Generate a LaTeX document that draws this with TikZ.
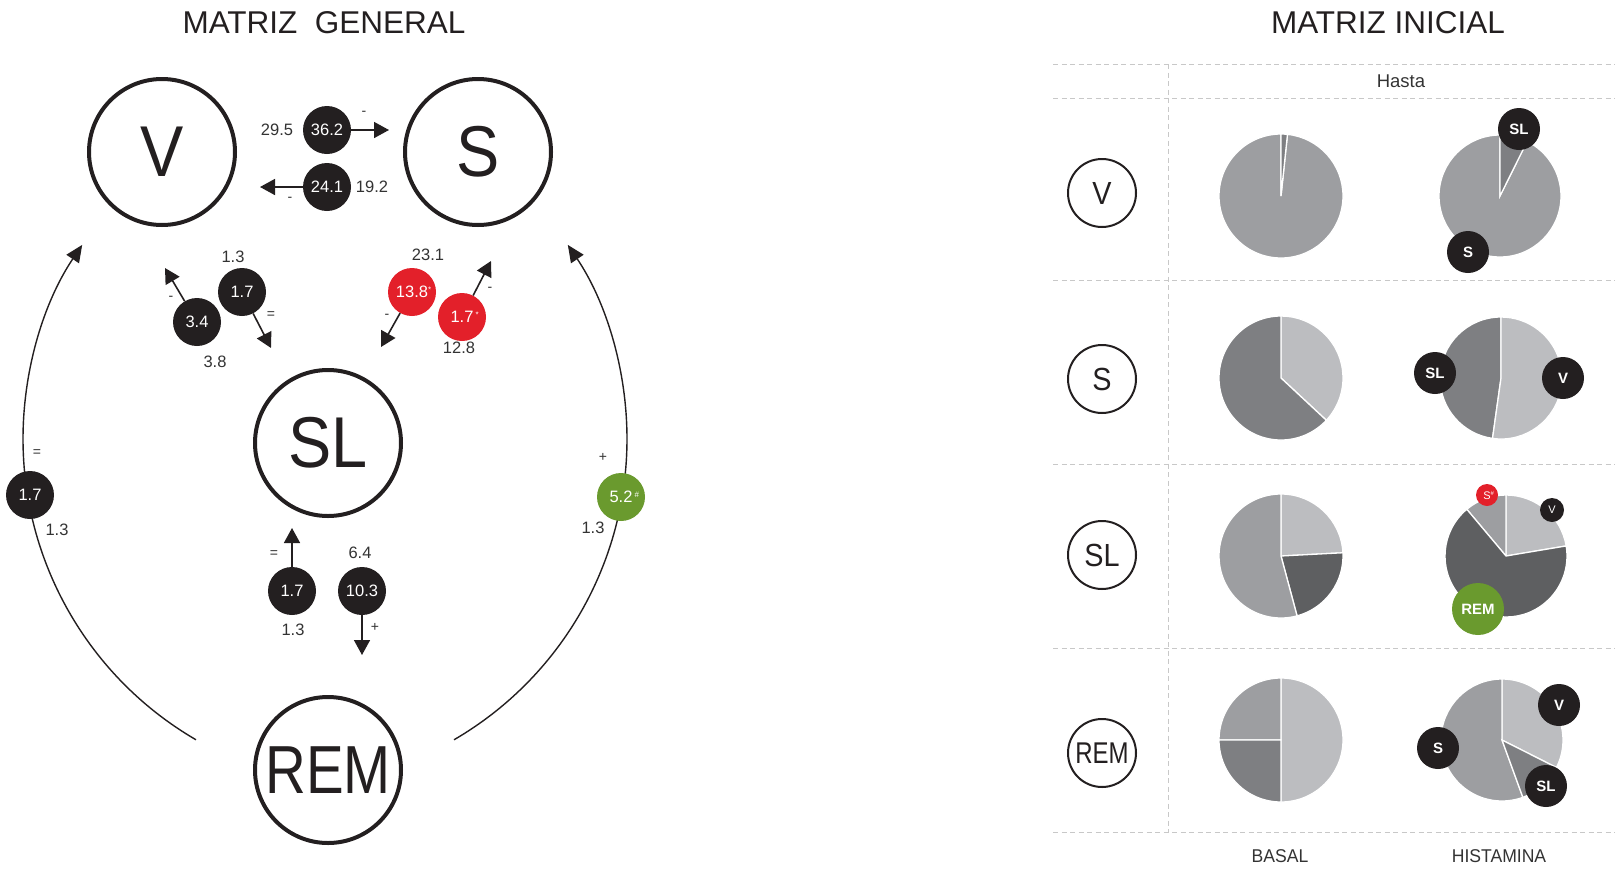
\documentclass[tikz,border=0pt]{standalone}
\usepackage{fontspec}
\usepackage{graphicx}
\setmainfont{Liberation Sans}
\usetikzlibrary{arrows.meta,calc}

\definecolor{ink}{HTML}{231F20}
\definecolor{txt}{HTML}{333333}
\definecolor{redc}{HTML}{E3202A}
\definecolor{grn}{HTML}{6A9A2E}
\definecolor{gLight}{HTML}{BCBDC0}
\definecolor{gMid}{HTML}{9D9EA1}
\definecolor{gDark}{HTML}{7E7F82}
\definecolor{gDeep}{HTML}{5E5F61}
\definecolor{rule}{HTML}{C8C8C8}

% one wedge of a pie: centre, radius, start angle, end angle, colour
\newcommand\pieslice[5]{%
  \fill[#5, draw=white, line width=1.3pt] (#1) -- ++(#3:#2)
    arc[start angle=#3, end angle=#4, radius=#2] -- cycle;}
\newcommand\cond[2]{\scalebox{#1}[1]{#2}}

\tikzset{
  big/.style={circle, draw=ink, line width=4pt, minimum size=146pt, inner sep=0pt,
    text=ink, font=\fontsize{72}{72}\selectfont},
  num/.style={circle, fill=ink, text=white, minimum size=48pt, inner sep=0pt,
    font=\fontsize{16.5}{17}\selectfont},
  numred/.style={num, fill=redc},
  numgrn/.style={num, fill=grn},
  lbl/.style={text=txt, font=\fontsize{16.5}{17}\selectfont, inner sep=0pt},
  sgn/.style={text=txt, font=\fontsize{14}{14}\selectfont, inner sep=0pt},
  arr/.style={draw=ink, line width=1.6pt, -{Triangle[length=15pt,width=16pt]}},
  loop/.style={draw=ink, line width=1.4pt, -{Triangle[length=17pt,width=15pt]}},
  title/.style={text=ink, font=\fontsize{31.5}{32}\selectfont},
  rowc/.style={circle, draw=ink, line width=2pt, minimum size=68pt, inner sep=0pt,
    text=ink, font=\fontsize{32}{32}\selectfont},
  badge/.style={circle, fill=ink, text=white, minimum size=42pt, inner sep=0pt,
    font=\bfseries\fontsize{15}{15}\selectfont},
  minib/.style={circle, fill=ink, text=white, minimum size=24pt, inner sep=0pt,
    font=\fontsize{11}{11}\selectfont},
  rule/.style={draw=rule, line width=1pt, dash pattern=on 5pt off 3.5pt},
  colhead/.style={text=txt, font=\fontsize{18.5}{19}\selectfont},
}

\begin{document}
\begin{tikzpicture}[x=1pt,y=1pt]
\useasboundingbox (0,0) rectangle (1615,-868);

% ---------------- general matrix ----------------
\node[title] (tG) at (324,-23) {MATRIZ\ \ GENERAL};

\node[big] (V)   at (162,-152) {\cond{0.9}{V}};
\node[big] (S)   at (478,-152) {\cond{0.9}{S}};
\node[big] (SL)  at (328,-443) {\cond{0.9}{SL}};
\node[big] (REM) at (328,-770) {\fontsize{68}{68}\selectfont\cond{0.83}{REM}};

% V <-> S
\node[num] (n362) at (327,-130) {36.2};
\coordinate (t362) at (389,-130);
\draw[arr] (n362) -- (t362);
\node[lbl] (l295) at (277,-130) {29.5};
\node[sgn] (s362) at (364,-113) {-};

\node[num] (n241) at (327,-187) {24.1};
\coordinate (t241) at (260,-187);
\draw[arr] (n241) -- (t241);
\node[lbl] (l192) at (372,-187) {19.2};
\node[sgn] (s241) at (290,-199) {-};

% V <-> SL
\node[num] (n34) at (197,-322) {3.4};
\coordinate (t34) at (165,-268);
\draw[arr] (n34) -- (t34);
\node[sgn] (s34) at (171,-298) {-};
\node[lbl] (l38) at (215,-362) {3.8};

\node[num] (n17a) at (242,-292) {1.7};
\coordinate (t17a) at (271,-348);
\draw[arr] (n17a) -- (t17a);
\node[sgn] (s17a) at (271,-315) {=};
\node[lbl] (l13a) at (233,-257) {1.3};

% S <-> SL
\node[numred] (n138) at (412,-292) {13.8\rlap{\raisebox{5pt}{\fontsize{8}{8}\selectfont *}}};
\coordinate (t138) at (381,-347);
\draw[arr] (n138) -- (t138);
\node[sgn] (s138) at (387,-316) {-};
\node[lbl] (l231) at (428,-255) {23.1};

\node[numred] (n17b) at (462,-317) {1.7\rlap{\raisebox{5pt}{\fontsize{8}{8}\selectfont\ *}}};
\coordinate (t17b) at (491,-261);
\draw[arr] (n17b) -- (t17b);
\node[sgn] (s17b) at (490,-289) {-};
\node[lbl] (l128) at (459,-348) {12.8};

% SL <-> REM
\node[num] (n17c) at (292,-591) {1.7};
\coordinate (t17c) at (292,-528);
\draw[arr] (n17c) -- (t17c);
\node[sgn] (s17c) at (274,-554) {=};
\node[lbl] (l13c) at (293,-630) {1.3};

\node[num] (n103) at (362,-591) {10.3};
\coordinate (t103) at (362,-655);
\draw[arr] (n103) -- (t103);
\node[sgn] (s103) at (375,-627) {+};
\node[lbl] (l64) at (360,-553) {6.4};

% REM -> V and REM -> S
\coordinate (aL) at ($(371,-439)+(239.8:348)$);
\coordinate (aR) at ($(279,-439)+(300.2:348)$);
\draw[loop] (aL) arc[start angle=239.8, end angle=146.1, radius=348];
\draw[loop] (aR) arc[start angle=300.2, end angle=393.9, radius=348];

\node[num] (n17d) at (30,-495) {1.7};
\node[sgn] (s17d) at (37,-453) {=};
\node[lbl] (l13d) at (57,-530) {1.3};

\node[numgrn] (n52) at (621,-497) {5.2\rlap{\raisebox{5pt}{\fontsize{8}{8}\selectfont\ \#}}};
\node[sgn] (s52) at (603,-457) {+};
\node[lbl] (l13e) at (593,-528) {1.3};

% ---------------- initial matrix ----------------
\node[title] (tI) at (1388,-23) {MATRIZ INICIAL};

\draw[rule] (1053,-64) -- (1615,-64);
\draw[rule] (1053,-98) -- (1615,-98);
\draw[rule] (1053,-280) -- (1615,-280);
\draw[rule] (1053,-464) -- (1615,-464);
\draw[rule] (1053,-648) -- (1615,-648);
\draw[rule] (1053,-832) -- (1615,-832);
\draw[rule] (1168,-64) -- (1168,-832);

\node[colhead] (hHasta) at (1401,-81) {Hasta};
\node[colhead] (hBasal) at (1280,-856) {\cond{0.95}{BASAL}};
\node[colhead] (hHist)  at (1499,-856) {\cond{0.95}{HISTAMINA}};

\node[rowc] (rV)   at (1102,-193) {\cond{0.9}{V}};
\node[rowc] (rS)   at (1102,-379) {\cond{0.9}{S}};
\node[rowc] (rSL)  at (1102,-555) {\cond{0.9}{SL}};
\node[rowc] (rREM) at (1102,-753) {\fontsize{30}{30}\selectfont\cond{0.8}{REM}};

% pie centres
\coordinate (bV)   at (1281,-196);
\coordinate (bS)   at (1281,-378);
\coordinate (bSL)  at (1281,-556);
\coordinate (bREM) at (1281,-740);
\coordinate (hV)   at (1500,-196);
\coordinate (hS)   at (1501,-378);
\coordinate (hSL)  at (1506,-556);
\coordinate (hREM) at (1502,-740);

% basal
\pieslice{bV}{62}{90}{444}{gMid}
\pieslice{bV}{62}{84}{90}{gDark}

\pieslice{bS}{62}{-43}{90}{gLight}
\pieslice{bS}{62}{90}{317}{gDark}

\pieslice{bSL}{62}{3}{90}{gLight}
\pieslice{bSL}{62}{-75}{3}{gDeep}
\pieslice{bSL}{62}{90}{285}{gMid}

\pieslice{bREM}{62}{-90}{90}{gLight}
\pieslice{bREM}{62}{90}{180}{gMid}
\pieslice{bREM}{62}{180}{270}{gDark}

% histamine
\pieslice{hV}{61}{90}{423.6}{gMid}
\pieslice{hV}{61}{63.6}{90}{gDark}

\pieslice{hS}{61}{90}{262}{gDark}
\pieslice{hS}{61}{262}{450}{gLight}

\pieslice{hSL}{61}{9.5}{90}{gLight}
\pieslice{hSL}{61}{90}{130}{gMid}
\pieslice{hSL}{61}{130}{369.5}{gDeep}

\pieslice{hREM}{61}{-26.8}{90}{gLight}
\pieslice{hREM}{61}{90}{290}{gMid}
\pieslice{hREM}{61}{290}{333.2}{gDark}

% badges
\node[badge] (kVSL) at (1519,-129) {SL};
\node[badge] (kVS)  at (1468,-252) {S};
\node[badge] (kSSL) at (1435,-373) {SL};
\node[badge] (kSV)  at (1563,-378) {V};
\node[minib, fill=redc, minimum size=22pt] (kSLS) at (1487,-495) {S\rlap{\raisebox{4pt}{\fontsize{6}{6}\selectfont\#}}};
\node[minib] (kSLV) at (1552,-510) {V};
\node[badge, fill=grn, minimum size=52pt] (kSLREM) at (1478,-609) {REM};
\node[badge] (kRV)  at (1559,-705) {V};
\node[badge] (kRS)  at (1438,-748) {S};
\node[badge] (kRSL) at (1546,-786) {SL};

\end{tikzpicture}
\end{document}
